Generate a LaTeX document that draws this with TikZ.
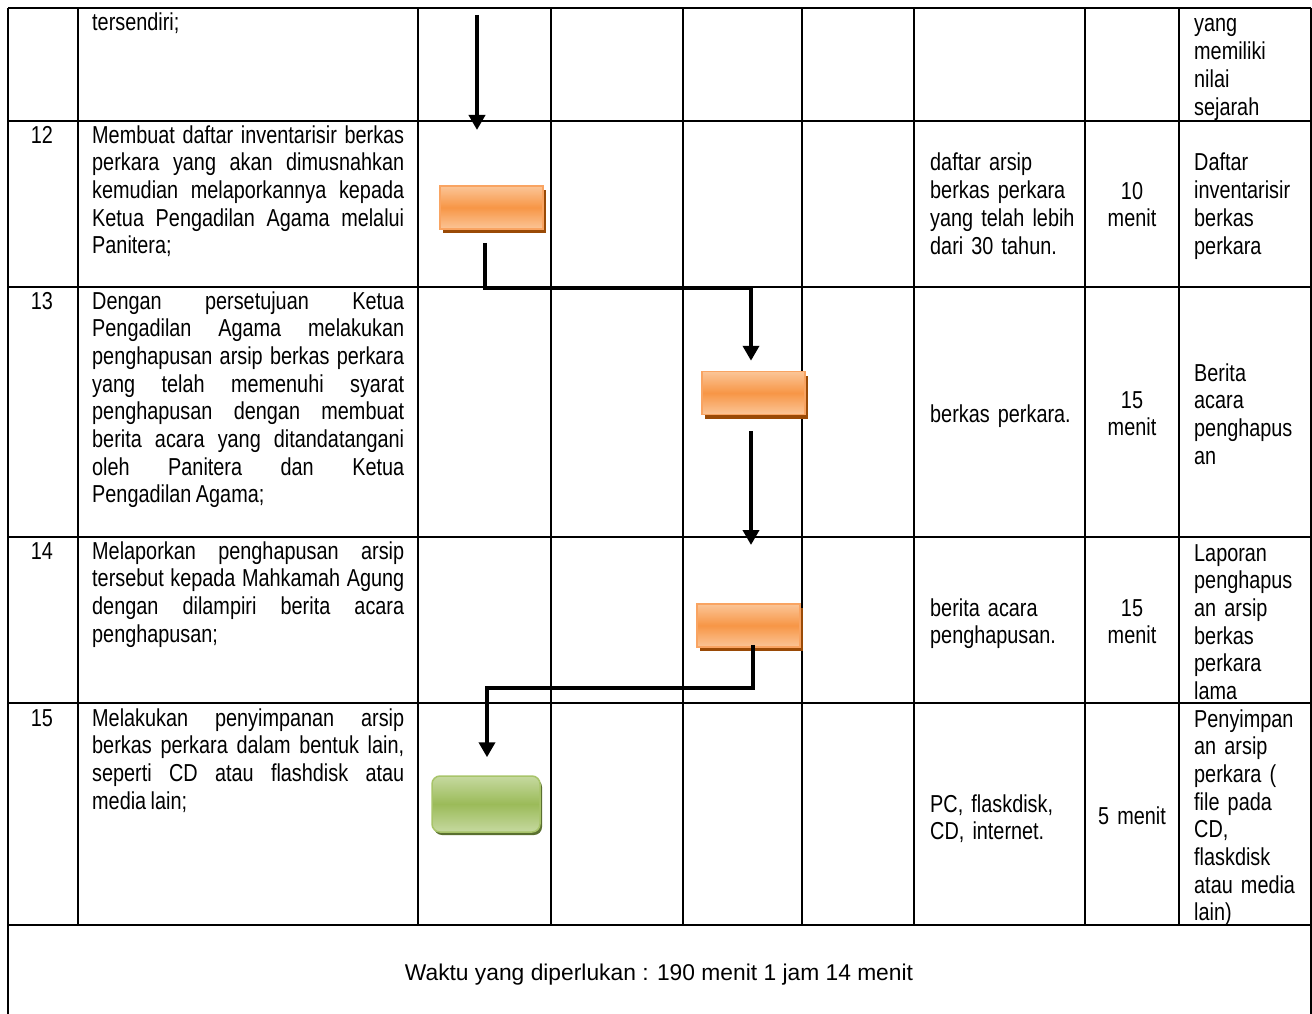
\documentclass[tikz,border=0pt]{standalone}
\usepackage{fontspec}
\setmainfont[FakeStretch=0.81,WordSpace=0.81]{Liberation Sans}
\newfontfamily\footfont{Liberation Sans}
\usetikzlibrary{arrows.meta,shadows}
\definecolor{oranye}{HTML}{F79646}
\definecolor{oranyemuda}{HTML}{FBC597}
\definecolor{oranyetepi}{HTML}{F9A462}
\definecolor{coklat}{HTML}{9A4A06}
\definecolor{hijau}{HTML}{9BBB59}
\definecolor{hijaumuda}{HTML}{C6D9A0}
\definecolor{hijautepi}{HTML}{A8C46A}
\definecolor{hijautua}{HTML}{5A7030}
\hyphenpenalty=10000
\tolerance=10000
\tikzset{
  garis/.style={line width=1.5pt},
  alur/.style={line width=4pt,-{Triangle[width=16pt,length=15pt]}},
  proses/.style={draw=oranyetepi,line width=1.5pt,inner sep=0pt,
    minimum width=103pt,minimum height=43pt,
    top color=oranyemuda,bottom color=oranyemuda,middle color=oranye,
    drop shadow={shadow xshift=3pt,shadow yshift=-4pt,fill=coklat,opacity=1}},
  selesai/.style={draw=hijautepi,line width=1.5pt,inner sep=0pt,rounded corners=8pt,
    minimum width=108pt,minimum height=56pt,
    top color=hijaumuda,bottom color=hijaumuda,middle color=hijau,
    drop shadow={shadow xshift=2pt,shadow yshift=-3pt,fill=hijautua,opacity=1}},
  isi/.style={font=\fontsize{24.5}{27.7}\selectfont,inner sep=0pt},
  nomor/.style={isi,anchor=base},
  uraian/.style={isi,text width=312pt,align=justify,anchor=base west},
  ket/.style={isi,text width=150pt,align=left,anchor=base west},
  waktu/.style={isi,text width=90pt,align=center,anchor=base},
}
\begin{document}
\begin{tikzpicture}[x=1pt,y=-1pt]
\useasboundingbox (0,0) rectangle (1312,1014);
% garis tabel
\draw[garis] (8,8) -- (1311,8);
\draw[garis] (8,121) -- (1311,121);
\draw[garis] (8,287) -- (1311,287);
\draw[garis] (8,537) -- (1311,537);
\draw[garis] (8,703) -- (1311,703);
\draw[garis] (8,925) -- (1311,925);
\draw[garis] (8,8) -- (8,1014);
\draw[garis] (1311,8) -- (1311,1014);
\draw[garis] (78,8) -- (78,925);
\draw[garis] (418,8) -- (418,925);
\draw[garis] (551,8) -- (551,925);
\draw[garis] (683,8) -- (683,925);
\draw[garis] (802,8) -- (802,925);
\draw[garis] (914,8) -- (914,925);
\draw[garis] (1085,8) -- (1085,925);
\draw[garis] (1179,8) -- (1179,925);

% baris sambungan
\node[uraian] (uraian11) at (92,31) {tersendiri;};
\node[ket] (hasil11) at (1194,32) {yang\\memiliki\\nilai\\sejarah};

% langkah 12
\node[nomor] (no12) at (42,143) {12};
\node[uraian] (uraian12) at (92,143) {Membuat daftar inventarisir berkas\linebreak
  perkara yang akan dimusnahkan\linebreak kemudian melaporkannya kepada\linebreak
  Ketua Pengadilan Agama melalui\linebreak Panitera;};
\node[ket] (bahan12) at (930,171) {daftar arsip\\berkas perkara\\yang telah lebih\\dari 30 tahun.};
\node[waktu] (waktu12) at (1132,199) {10\\menit};
\node[ket] (hasil12) at (1194,171) {Daftar\\inventarisir\\berkas\\perkara};

% langkah 13
\node[nomor] (no13) at (42,309) {13};
\node[uraian] (uraian13) at (92,309) {Dengan persetujuan Ketua\linebreak
  Pengadilan Agama melakukan\linebreak penghapusan arsip berkas perkara\linebreak
  yang telah memenuhi syarat\linebreak penghapusan dengan membuat\linebreak
  berita acara yang ditandatangani\linebreak oleh Panitera dan Ketua\linebreak
  Pengadilan Agama;};
\node[ket] (bahan13) at (930,422) {berkas perkara.};
\node[waktu] (waktu13) at (1132,408) {15\\menit};
\node[ket] (hasil13) at (1194,381) {Berita\\acara\\penghapus\\an};

% langkah 14
\node[nomor] (no14) at (42,559) {14};
\node[uraian] (uraian14) at (92,559) {Melaporkan penghapusan arsip\linebreak
  tersebut kepada Mahkamah Agung\linebreak dengan dilampiri berita acara\linebreak
  penghapusan;};
\node[ket] (bahan14) at (930,616) {berita acara\\penghapusan.};
\node[waktu] (waktu14) at (1132,616) {15\\menit};
\node[ket] (hasil14) at (1194,561) {Laporan\\penghapus\\an arsip\\berkas\\perkara\\lama};

% langkah 15
\node[nomor] (no15) at (42,726) {15};
\node[uraian] (uraian15) at (92,726) {Melakukan penyimpanan arsip\linebreak
  berkas perkara dalam bentuk lain,\linebreak seperti CD atau flashdisk atau\linebreak
  media lain;};
\node[ket] (bahan15) at (930,812) {PC, flaskdisk,\\CD, internet.};
\node[waktu] (waktu15) at (1132,824) {5 menit};
\node[ket] (hasil15) at (1194,727) {Penyimpan\\an arsip\\perkara (\\file pada\\CD,\\flaskdisk\\atau media\\lain)};

% simbol alur
\node[proses] (kotak1) at (491.5,207.5) {};
\node[proses] (kotak2) at (753.5,393) {};
\node[proses] (kotak3) at (748.5,625.5) {};
\node[selesai] (kotak4) at (486,804) {};

\coordinate (awal) at (477,15);
\coordinate (ujung1) at (477,130);
\coordinate (ujung3) at (751,545);
\draw[alur] (awal) -- (ujung1);
\draw[alur] ([shift={(-7pt,-13pt)}]kotak1.south) -- ++(0,45)
  -| ([shift={(-2.5pt,10pt)}]kotak2.north);
\draw[alur] ([shift={(-2.5pt,-16pt)}]kotak2.south) -- (ujung3);
\draw[alur] ([shift={(4.5pt,3pt)}]kotak3.south) -- ++(0,43)
  -| ([shift={(1pt,18pt)}]kotak4.north);

% jumlah waktu
\node[font=\footfont\fontsize{22.8}{27}\selectfont,anchor=base] (total) at (659,980)
  {Waktu yang diperlukan : 190 menit 1 jam 14 menit};
\end{tikzpicture}
\end{document}
